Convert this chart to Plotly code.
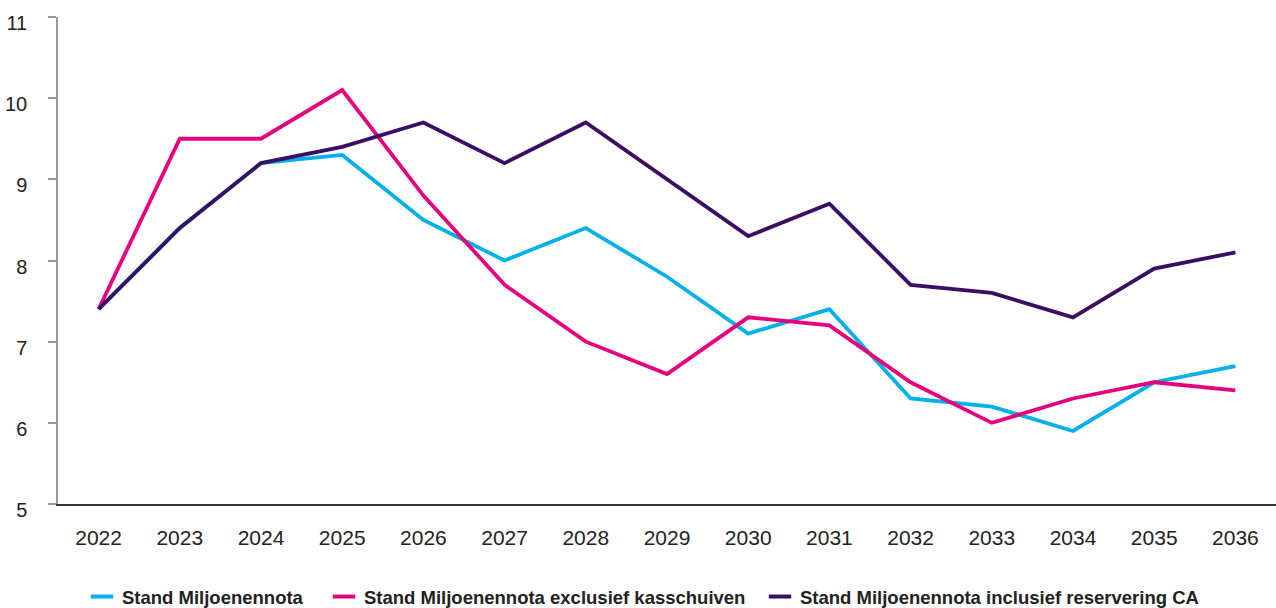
import plotly.graph_objects as go

years = [str(y) for y in range(2022, 2037)]
stand_mn = [7.4, 8.4, 9.2, 9.3, 8.5, 8.0, 8.4, 7.8, 7.1, 7.4, 6.3, 6.2, 5.9, 6.5, 6.7]
excl_kas = [7.4, 9.5, 9.5, 10.1, 8.8, 7.7, 7.0, 6.6, 7.3, 7.2, 6.5, 6.0, 6.3, 6.5, 6.4]
incl_ca = [7.4, 8.4, 9.2, 9.4, 9.7, 9.2, 9.7, 9.0, 8.3, 8.7, 7.7, 7.6, 7.3, 7.9, 8.1]
names = ["Stand Miljoenennota",
         "Stand Miljoenennota exclusief kasschuiven",
         "Stand Miljoenennota inclusief reservering CA"]
colors = ["#00b0ea", "#e5007e", "#3a0f63"]
y_ticks = [5, 6, 7, 8, 9, 10, 11]

W, H = 1276, 608
FONT = "Liberation Sans, Arial, sans-serif"

fig = go.Figure()
series = [stand_mn, excl_kas, incl_ca]
for vals, name, col in zip(series, names, colors):
    fig.add_trace(go.Scatter(x=years, y=vals, mode="lines", name=name,
                             line=dict(color=col, width=3.8),
                             showlegend=False, hoverinfo="x+y"))

legend_x = [82, 324, 760]
legend_ids = ["legend", "legend2", "legend3"]
for name, col, lid in zip(names, colors, legend_ids):
    fig.add_trace(go.Scatter(x=[None], y=[None], mode="markers", name=name,
                             marker=dict(symbol="line-ew", size=16, color=col,
                                         line=dict(color=col, width=4)),
                             showlegend=True, legend=lid))

leg_common = dict(orientation="h", xref="container", yref="container",
                  xanchor="left", yanchor="middle", y=(H - 597) / H,
                  font=dict(family=FONT, size=18.5, color="#222222", weight="bold"),
                  bgcolor="rgba(0,0,0,0)", borderwidth=0)

layout_legends = {}
for lid, lx in zip(legend_ids, legend_x):
    layout_legends[lid] = dict(leg_common, x=lx / W)

fig.update_layout(
    width=W, height=H,
    margin=dict(l=58, r=0, t=17, b=104),
    plot_bgcolor="white", paper_bgcolor="white",
    font=dict(family=FONT, color="#222222"),
    xaxis=dict(type="category", range=[-0.5, 14.5], showgrid=False,
               zeroline=False, showline=True, linecolor="#333333", linewidth=1.5,
               ticks="", tickfont=dict(size=21, color="#222222"),
               ticklabelstandoff=14),
    yaxis=dict(range=[5, 11], tickvals=y_ticks, showgrid=False, zeroline=False,
               showline=True, linecolor="#999999", linewidth=1.5,
               ticks="outside", ticklen=8, tickcolor="#999999", tickwidth=1.5,
               tickfont=dict(size=20, color="#222222"),
               ticklabelstandoff=17, ticklabelshift=6),
    **layout_legends,
)

fig.write_html("out.html", config={"displayModeBar": False},
               post_script="document.body.style.margin='0';document.body.style.overflow='hidden';")
